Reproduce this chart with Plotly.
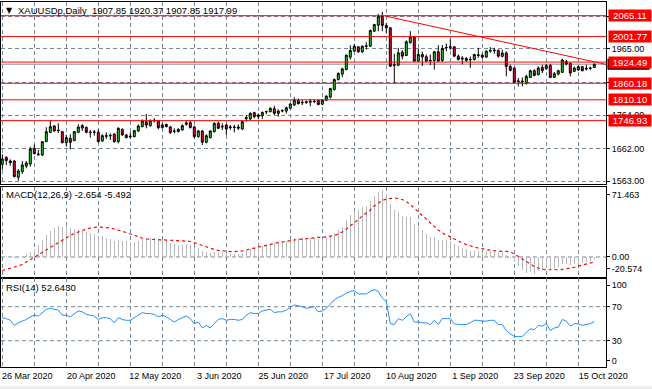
import plotly.graph_objects as go

# ---------------- data ----------------
SYMBOL = "XAUUSDp,Daily"
TICK_LABELS = ["26 Mar 2020", "20 Apr 2020", "12 May 2020", "3 Jun 2020", "25 Jun 2020",
               "17 Jul 2020", "10 Aug 2020", "1 Sep 2020", "23 Sep 2020", "15 Oct 2020"]
BARS_PER_LABEL = 16
BARS_PER_GRID = 8

OPEN = [1614.5, 1635.7, 1624.6, 1624.6, 1575.1, 1592.2, 1609.4, 1615.5, 1663.0, 1645.8,
        1642.8, 1683.2, 1711.5, 1730.7, 1718.0, 1713.5, 1680.2, 1693.3, 1686.2, 1711.5,
        1724.6, 1726.7, 1711.5, 1711.5, 1711.5, 1685.2, 1699.4, 1700.4, 1706.4, 1683.2,
        1720.6, 1703.4, 1697.4, 1698.4, 1715.5, 1728.7, 1743.8, 1731.7, 1745.9, 1746.9,
        1725.6, 1735.8, 1727.7, 1714.5, 1713.5, 1718.6, 1735.8, 1740.8, 1727.7, 1698.4,
        1715.5, 1681.1, 1695.3, 1713.5, 1738.7, 1727.6, 1733.7, 1725.6, 1727.6, 1727.6,
        1721.5, 1752.9, 1751.9, 1771.1, 1759.0, 1762.0, 1773.1, 1774.1, 1783.2, 1769.0,
        1776.1, 1776.1, 1784.2, 1794.3, 1807.5, 1802.4, 1801.9, 1802.9, 1805.9, 1807.9,
        1796.8, 1808.9, 1818.0, 1841.3, 1871.6, 1888.0, 1901.9, 1939.3, 1957.5, 1970.6,
        1955.5, 1971.7, 1972.7, 2018.1, 2036.3, 2063.6, 2035.3, 2028.3, 1914.0, 1915.1,
        1954.6, 1944.5, 1982.9, 2001.1, 1927.3, 1947.5, 1940.5, 1930.4, 1929.3, 1955.6,
        1929.3, 1967.7, 1968.8, 1970.8, 1942.5, 1933.4, 1935.4, 1931.4, 1932.4, 1946.5,
        1945.5, 1939.5, 1957.6, 1958.7, 1959.7, 1941.8, 1951.9, 1911.5, 1906.4, 1865.0,
        1867.0, 1860.9, 1878.1, 1898.3, 1886.2, 1908.5, 1904.4, 1914.5, 1878.1, 1888.2,
        1893.3, 1926.6, 1920.6, 1896.3, 1900.4, 1910.5, 1903.4, 1905.4, 1907.85]
HIGH = [1644.8, 1638.7, 1629.6, 1626.6, 1600.3, 1624.6, 1624.6, 1668.0, 1675.1, 1658.0,
        1685.2, 1726.7, 1747.9, 1733.7, 1739.0, 1715.5, 1703.4, 1705.4, 1715.5, 1735.8,
        1736.8, 1728.7, 1718.6, 1718.6, 1720.6, 1705.4, 1711.5, 1708.5, 1708.5, 1726.7,
        1723.6, 1706.4, 1711.5, 1718.6, 1735.8, 1750.9, 1767.1, 1750.9, 1754.0, 1748.9,
        1738.8, 1737.8, 1730.7, 1723.6, 1723.6, 1735.8, 1745.9, 1746.9, 1731.7, 1718.6,
        1718.5, 1705.4, 1717.5, 1741.8, 1743.8, 1738.7, 1736.7, 1733.7, 1733.7, 1735.7,
        1745.8, 1764.0, 1772.1, 1774.1, 1769.0, 1774.1, 1777.1, 1787.2, 1792.3, 1781.2,
        1781.2, 1789.2, 1799.4, 1817.6, 1814.5, 1809.5, 1807.9, 1813.0, 1811.0, 1811.0,
        1812.0, 1824.1, 1846.3, 1874.6, 1893.8, 1907.0, 1947.4, 1975.7, 1979.7, 1972.7,
        1974.7, 1984.8, 2023.2, 2040.4, 2070.7, 2076.8, 2043.4, 2030.3, 1949.4, 1967.6,
        1960.7, 1990.0, 2018.3, 2003.1, 1965.7, 1955.6, 1947.5, 1947.5, 1957.6, 1975.8,
        1975.8, 1980.9, 1993.0, 1972.8, 1947.5, 1942.5, 1939.5, 1941.5, 1949.6, 1967.7,
        1950.6, 1960.7, 1969.8, 1967.7, 1962.7, 1962.0, 1957.0, 1916.5, 1908.5, 1876.1,
        1878.1, 1886.2, 1901.4, 1903.4, 1911.5, 1916.5, 1918.6, 1918.6, 1894.3, 1901.4,
        1934.7, 1930.7, 1923.6, 1911.5, 1914.5, 1912.5, 1916.5, 1910.5, 1920.37]
LOW = [1598.3, 1612.4, 1610.4, 1575.1, 1565.0, 1585.2, 1602.3, 1607.4, 1644.8, 1640.8,
       1639.7, 1682.2, 1710.5, 1713.5, 1709.0, 1678.2, 1668.0, 1660.0, 1685.2, 1710.5,
       1715.5, 1708.5, 1695.3, 1701.4, 1681.2, 1683.2, 1691.3, 1688.3, 1680.2, 1678.2,
       1701.4, 1693.3, 1693.3, 1696.3, 1713.5, 1726.7, 1723.6, 1728.7, 1741.8, 1720.6,
       1723.6, 1726.7, 1706.4, 1708.5, 1711.5, 1716.6, 1731.7, 1723.6, 1693.3, 1695.3,
       1673.0, 1678.1, 1693.2, 1711.4, 1721.5, 1718.5, 1703.4, 1718.5, 1711.4, 1718.5,
       1718.5, 1743.8, 1748.8, 1753.9, 1750.9, 1751.9, 1766.0, 1772.1, 1764.0, 1759.0,
       1772.1, 1769.0, 1782.2, 1792.3, 1796.3, 1794.3, 1797.8, 1790.7, 1799.8, 1793.8,
       1793.8, 1805.9, 1814.0, 1838.2, 1868.6, 1878.7, 1899.9, 1932.2, 1955.5, 1952.4,
       1952.4, 1962.6, 1970.6, 2016.1, 2018.1, 2018.1, 2013.1, 1910.0, 1861.5, 1912.0,
       1932.4, 1942.5, 1980.9, 1925.3, 1925.3, 1912.2, 1925.3, 1915.2, 1902.1, 1925.3,
       1925.3, 1957.6, 1961.7, 1940.5, 1929.3, 1917.2, 1925.3, 1907.1, 1929.3, 1937.4,
       1935.4, 1937.4, 1952.6, 1949.6, 1937.4, 1938.8, 1881.2, 1896.3, 1860.9, 1850.8,
       1850.8, 1855.9, 1876.1, 1881.2, 1884.2, 1891.3, 1901.4, 1876.1, 1876.1, 1884.2,
       1891.3, 1914.5, 1881.2, 1894.3, 1898.3, 1896.3, 1898.3, 1900.4, 1907.85]
CLOSE = [1630.6, 1625.6, 1619.5, 1577.1, 1594.3, 1612.4, 1618.5, 1661.0, 1646.8, 1643.8,
         1683.2, 1713.5, 1728.7, 1715.5, 1717.0, 1680.2, 1695.3, 1681.2, 1713.5, 1727.7,
         1731.7, 1711.5, 1710.5, 1712.5, 1683.2, 1701.4, 1701.4, 1702.4, 1683.2, 1723.6,
         1703.4, 1695.3, 1699.4, 1716.6, 1730.7, 1745.9, 1733.7, 1746.9, 1747.9, 1725.6,
         1733.7, 1728.7, 1710.5, 1715.5, 1720.6, 1731.7, 1739.8, 1725.6, 1698.4, 1715.5,
         1681.1, 1701.3, 1715.5, 1738.7, 1723.6, 1729.6, 1721.5, 1727.6, 1726.6, 1724.6,
         1743.8, 1755.9, 1769.0, 1759.0, 1764.0, 1772.1, 1774.1, 1784.2, 1769.0, 1776.1,
         1777.1, 1786.2, 1797.3, 1809.5, 1798.4, 1801.4, 1803.9, 1805.9, 1804.9, 1795.8,
         1808.9, 1821.1, 1844.3, 1871.6, 1889.8, 1903.9, 1945.4, 1959.5, 1972.7, 1955.5,
         1972.7, 1973.7, 2020.2, 2038.4, 2062.6, 2035.3, 2028.3, 1912.0, 1916.1, 1952.4,
         1942.5, 1986.0, 2001.1, 1927.3, 1947.5, 1940.5, 1927.3, 1928.3, 1955.6, 1927.3,
         1965.7, 1968.8, 1970.8, 1942.5, 1932.4, 1936.4, 1929.3, 1932.4, 1947.5, 1944.5,
         1939.5, 1957.6, 1959.7, 1960.7, 1942.5, 1951.9, 1911.5, 1899.4, 1864.0, 1867.0,
         1865.0, 1881.2, 1898.3, 1884.2, 1906.4, 1898.3, 1913.5, 1878.1, 1889.2, 1898.3,
         1930.7, 1918.6, 1891.3, 1906.4, 1910.5, 1898.3, 1905.4, 1906.4, 1917.99]

MACD_MAIN = [1, 1, 0, -1, 0, 1, 3, 5, 9, 13,
             18, 24, 28, 31, 33, 32, 33, 31, 30, 29,
             28, 27, 26, 25, 22, 22, 20, 19, 17, 18,
             17, 17, 16, 16, 17, 19, 19, 20, 20, 19,
             18, 17, 15, 14, 13, 13, 14, 13, 11, 10,
             6, 5, 4, 5, 5, 4, 4, 3, 3, 3,
             4, 6, 9, 10, 10, 12, 13, 15, 15, 16,
             16, 17, 18, 20, 20, 20, 20, 20, 20, 19,
             19, 20, 22, 26, 29, 32, 40, 45, 49, 50,
             54, 55, 60, 65, 70, 71.463, 68, 57, 50, 48,
             44, 43, 43, 35, 32, 29, 25, 21, 21, 18,
             18, 18, 17, 14, 12, 10, 9, 6, 6, 6,
             5, 6, 6, 6, 5, 5, 2, -1, -5, -10,
             -14, -17, -16, -18, -15, -14, -12, -13, -13, -11,
             -8, -7, -9, -8, -7, -6, -5, -4, -2.654]
MACD_SIGNAL = [-14.5, -13.4, -12.3, -11, -9.6, -8, -5.4, -2.7, 0, 2.1,
               4.8, 7.5, 10.2, 12.8, 15.5, 18.2, 20.9, 23, 25.1, 26.8,
               28.9, 30, 31, 31.6, 32.1, 31.9, 31.6, 31, 30, 28.9,
               27.8, 26.2, 24.6, 23, 21.4, 20.3, 19.3, 18.7, 18.7, 18.5,
               18.4, 18.2, 18.2, 18, 17.7, 17.3, 17.1, 16.6, 15.5, 13.9,
               12.3, 10.7, 9.4, 8, 7, 6.4, 5.9, 5.8, 5.8, 5.9,
               6.4, 7.5, 8.6, 9.6, 10.7, 11.8, 12.8, 13.9, 14.4, 15.5,
               16, 16.9, 17.7, 18.2, 18.7, 19.3, 19.8, 20.3, 20.3, 20.9,
               20.9, 21.4, 21.9, 23, 24.6, 26.8, 30, 33.2, 36.4, 40.1,
               43.9, 47.1, 50.3, 54.6, 57.8, 60.5, 62.1, 62.9, 63.1, 62.6,
               61.5, 59.4, 56.2, 52.4, 48.2, 44.9, 40.7, 36.4, 32.1, 28.9,
               25.7, 23.5, 20.9, 18.7, 16.6, 15, 13.4, 11.8, 10.7, 9.6,
               9.1, 8, 7.3, 6.6, 6.2, 5.9, 5.9, 5.4, 3.2, 0.5,
               -2.7, -5.4, -8, -10.2, -11.8, -13.2, -13.7, -13.9, -13.9, -13.7,
               -13.4, -12.8, -12, -11, -9.8, -8.9, -7.7, -6.6, -5.492]
RSI = [57, 56, 54, 48, 51, 53, 55, 58, 60, 59,
       63, 67, 68, 67, 66, 60, 60, 58, 62, 65,
       64, 61, 60, 59, 55, 57, 57, 56, 51, 57,
       55, 54, 54, 57, 60, 63, 62, 62, 61, 58,
       60, 58, 55, 52, 55, 57, 59, 56, 50, 52,
       45, 48, 45, 50, 55, 56, 54, 55, 55, 54,
       55, 60, 63, 62, 62, 65, 66, 67, 63, 64,
       64, 66, 69, 72, 71, 70, 68, 69, 70, 64,
       65, 68, 73, 78, 81, 83, 86, 88, 89, 85,
       85, 85, 88, 90, 88, 80, 76, 50, 49, 56,
       54, 58, 62, 52, 52, 51, 51, 49, 54, 49,
       56, 56, 56, 50, 49, 49, 49, 51, 54, 54,
       53, 53, 54, 54, 49, 49, 42, 38, 35, 35,
       35, 40, 44, 43, 48, 47, 50, 42, 45, 46,
       55, 53, 47, 50, 50, 48, 49, 50, 52.643]

PRICE_LEVELS = [2065.11, 2001.77, 1924.49, 1860.18, 1810.10, 1746.93]
BID = 1917.99
TREND_X = [95.7, 151.0]
TREND_Y = [2064.2, 1917.2]
PRICE_GRID = [1563, 1662, 1764, 1863, 1965, 2064]
PRICE_GRID_SHOWN = [1563, 1662, 1764, 1965]
MACD_RANGE = [-22.0, 75.5]
MACD_LABELS = [(66.9, "71.463"), (0, "0.00"), (-12.4, "-20.574")]
RSI_LABELS = [(95.5, "100"), (70, "70"), (30, "30"), (6.5, "0")]
RSI_LEVELS = [70, 30]

# ---------------- figure ----------------
W, H = 652, 389
N = len(CLOSE)
BARS = list(range(N))
FONT = "Liberation Sans"
GRID = "#778899"
DASH = "4px,3px"

def py(pix):
    return 1 - pix / H

PX_PER_BAR = 4.0
BAR0_PIX = 2.3
x_dom = [1 / W, 606 / W]
x_rng = [(1 - BAR0_PIX) / PX_PER_BAR, (606 - BAR0_PIX) / PX_PER_BAR]
main_dom = [py(183.5), py(1.5)]
macd_dom = [py(277.5), py(186.5)]
rsi_dom = [py(367), py(278)]
PRICE_PER_PX = 3.032
main_rng = [1563 - (183.5 - 181.3) * PRICE_PER_PX, 1563 + (181.3 - 1.5) * PRICE_PER_PX]
rsi_rng = [-(367 - 366.2) / 0.85, 100 + (281.2 - 278) / 0.85]

grid_vals = list(range(0, N, BARS_PER_GRID))
grid_text = []
for v in grid_vals:
    if v % BARS_PER_LABEL == 0 and v // BARS_PER_LABEL < len(TICK_LABELS):
        grid_text.append(TICK_LABELS[v // BARS_PER_LABEL])
    else:
        grid_text.append("")

fig = go.Figure()

fig.add_trace(go.Candlestick(
    x=BARS, open=OPEN, high=HIGH, low=LOW, close=CLOSE,
    xaxis="x", yaxis="y",
    increasing=dict(line=dict(color="black", width=1), fillcolor="#32CD32"),
    decreasing=dict(line=dict(color="black", width=1), fillcolor="#DC143C"),
    whiskerwidth=0, hoverinfo="skip",
))
fig.add_trace(go.Scatter(x=TREND_X, y=TREND_Y, mode="lines", xaxis="x", yaxis="y",
                         line=dict(color="#FF0000", width=1), hoverinfo="skip"))

fig.add_trace(go.Bar(x=BARS, y=MACD_MAIN, xaxis="x2", yaxis="y2", width=0.28,
                     marker=dict(color="#B8B8B8", line=dict(width=0)), hoverinfo="skip"))
fig.add_trace(go.Scatter(x=BARS, y=MACD_SIGNAL, xaxis="x2", yaxis="y2", mode="lines",
                         line=dict(color="#FF0000", width=1.2, dash="dot"), hoverinfo="skip"))

fig.add_trace(go.Scatter(x=BARS, y=RSI, xaxis="x3", yaxis="y3", mode="lines",
                         line=dict(color="#1E90FF", width=1), hoverinfo="skip"))

axis_common = dict(showline=True, mirror=True, linecolor="black", linewidth=1,
                   zeroline=False, fixedrange=True, automargin=False)
xcommon = dict(axis_common, domain=x_dom, range=x_rng, tickmode="array",
               tickvals=grid_vals, showgrid=True, gridcolor=GRID, griddash=DASH,
               gridwidth=1, ticks="")
ycommon = dict(axis_common, side="right", ticks="outside", ticklen=3, tickcolor="black",
               tickfont=dict(family=FONT, size=9, color="black"))

shapes = []
for lv in PRICE_LEVELS:
    shapes.append(dict(type="line", xref="x domain", yref="y", x0=0, x1=1, y0=lv, y1=lv,
                       line=dict(color="#FF0000", width=1), layer="above"))
shapes.append(dict(type="line", xref="x domain", yref="y", x0=0, x1=1, y0=BID, y1=BID,
                   line=dict(color="#8A96A3", width=1), layer="below"))
# current-price marker box on the price scale (mostly hidden behind the red label)
shapes.append(dict(type="rect", xref="paper", yref="y", x0=607.5 / W, x1=649.5 / W,
                   y0=BID - 5.5 * PRICE_PER_PX, y1=BID + 5.5 * PRICE_PER_PX,
                   fillcolor="black", line=dict(width=0), layer="above"))
shapes.append(dict(type="line", xref="x2 domain", yref="y2", x0=0, x1=1, y0=0, y1=0,
                   line=dict(color=GRID, width=1, dash=DASH), layer="below"))
for lv in RSI_LEVELS:
    shapes.append(dict(type="line", xref="x3 domain", yref="y3", x0=0, x1=1, y0=lv, y1=lv,
                       line=dict(color=GRID, width=1, dash=DASH), layer="below"))
shapes.append(dict(type="rect", xref="paper", yref="paper", x0=0, x1=1, y0=0, y1=3 / H,
                   fillcolor="#EDEDED", line=dict(width=0)))

annotations = []
annotations.append(dict(text="\u25bc", xref="paper", yref="paper", x=4 / W, y=py(11),
                        xanchor="left", yanchor="middle", showarrow=False,
                        font=dict(family="DejaVu Sans", size=8, color="black")))
header = f"{SYMBOL}  {OPEN[-1]:.2f} {HIGH[-1]:.2f} {LOW[-1]:.2f} {CLOSE[-1]:.2f}"
annotations.append(dict(text=header, xref="paper", yref="paper", x=16 / W, y=py(11),
                        xanchor="left", yanchor="middle", showarrow=False,
                        font=dict(family=FONT, size=9.5, color="black")))
annotations.append(dict(text=f"MACD(12,26,9) {MACD_MAIN[-1]:.3f} {MACD_SIGNAL[-1]:.3f}",
                        xref="paper", yref="paper", x=4 / W, y=py(194.5),
                        xanchor="left", yanchor="middle", showarrow=False,
                        font=dict(family=FONT, size=9.5, color="black")))
annotations.append(dict(text=f"RSI(14) {RSI[-1]:.4f}", xref="paper", yref="paper",
                        x=4 / W, y=py(287.5), xanchor="left", yanchor="middle",
                        showarrow=False, font=dict(family=FONT, size=9.5, color="black")))
for lv in PRICE_LEVELS:
    annotations.append(dict(text=f"{lv:.2f}", xref="paper", yref="y", x=607.5 / W, y=lv,
                            xanchor="left", yanchor="middle", showarrow=False,
                            bgcolor="#FF0000", width=41, height=10, borderpad=0.5,
                            font=dict(family=FONT, size=9.5, color="white")))

fig.update_layout(
    width=W, height=H, margin=dict(l=0, r=0, t=0, b=0, autoexpand=False),
    paper_bgcolor="white", plot_bgcolor="white", showlegend=False,
    hovermode=False, bargap=0,
    font=dict(family=FONT, size=9, color="black"),
    xaxis=dict(xcommon, anchor="y", showticklabels=False, rangeslider=dict(visible=False)),
    xaxis2=dict(xcommon, anchor="y2", matches="x", showticklabels=False),
    xaxis3=dict(xcommon, anchor="y3", matches="x", ticktext=grid_text, showticklabels=True,
                tickfont=dict(family=FONT, size=9, color="black"), ticklabelshift=25),
    yaxis=dict(ycommon, domain=main_dom, anchor="x", range=main_rng, tickmode="array",
               tickvals=PRICE_GRID,
               ticktext=[f"{v:.2f}" if v in PRICE_GRID_SHOWN else "" for v in PRICE_GRID],
               showgrid=True, gridcolor=GRID, griddash=DASH, gridwidth=1),
    yaxis2=dict(ycommon, domain=macd_dom, anchor="x2", range=MACD_RANGE, tickmode="array",
                tickvals=[v for v, _ in MACD_LABELS], ticktext=[t for _, t in MACD_LABELS],
                showgrid=False),
    yaxis3=dict(ycommon, domain=rsi_dom, anchor="x3", range=rsi_rng, tickmode="array",
                tickvals=[v for v, _ in RSI_LABELS], ticktext=[t for _, t in RSI_LABELS],
                showgrid=False),
    shapes=shapes, annotations=annotations,
)

fig.write_html(
    "out.html",
    config={"displayModeBar": False, "staticPlot": True},
    post_script="document.body.style.margin='0px';document.body.style.padding='0px';"
                "document.documentElement.style.overflow='hidden';",
)
